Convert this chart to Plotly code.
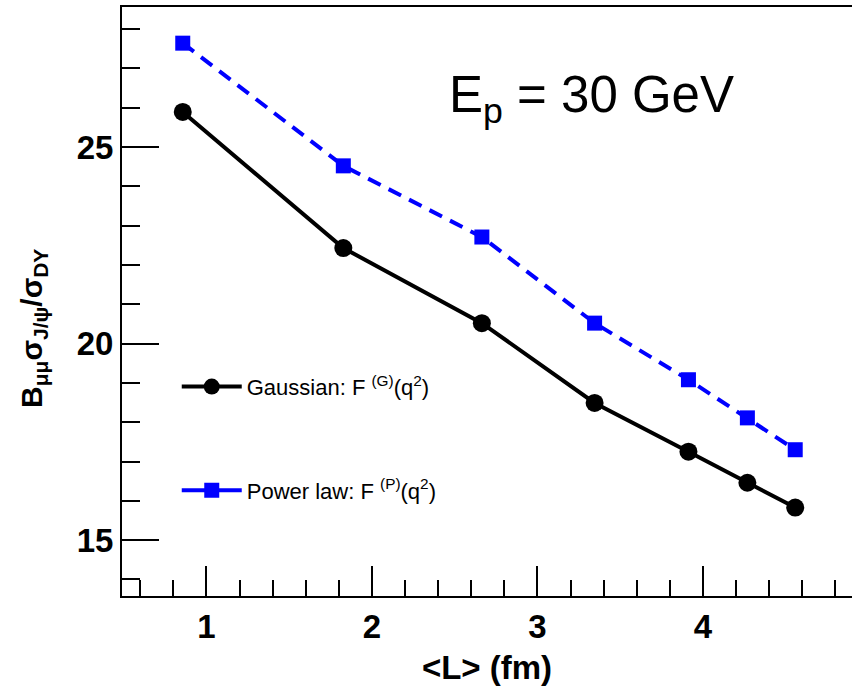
import plotly.graph_objects as go

L_fm = [0.857, 1.827, 2.664, 3.345, 3.912, 4.268, 4.557]
gauss = [25.89, 22.43, 20.52, 18.49, 17.25, 16.46, 15.83]
power = [27.64, 24.52, 22.71, 20.52, 19.08, 18.11, 17.30]

x_ticks = [1, 2, 3, 4]
y_ticks = [15, 20, 25]

FONT = "Liberation Sans, Arial, sans-serif"

fig = go.Figure()

fig.add_trace(go.Scatter(
    x=L_fm, y=gauss, mode="lines+markers", showlegend=False,
    line=dict(color="black", width=4),
    marker=dict(symbol="circle", size=18, color="black"),
))
fig.add_trace(go.Scatter(
    x=L_fm, y=power, mode="lines+markers", showlegend=False,
    line=dict(color="#0000ff", width=4, dash="14px,9px"),
    marker=dict(symbol="square", size=15, color="#0000ff"),
))
# legend entries (solid lines as in the reference legend)
fig.add_trace(go.Scatter(
    x=[None], y=[None], mode="lines+markers", legendgroup="g",
    name="Gaussian: F <sup>(G)</sup>(q<sup>2</sup>)",
    line=dict(color="black", width=4),
    marker=dict(symbol="circle", size=18, color="black"),
))
fig.add_trace(go.Scatter(
    x=[None], y=[None], mode="lines+markers", legendgroup="p",
    name="Power law: F <sup>(P)</sup>(q<sup>2</sup>)",
    line=dict(color="#0000ff", width=4),
    marker=dict(symbol="square", size=15, color="#0000ff"),
))

fig.add_annotation(
    x=0.643, y=0.845, xref="paper", yref="paper",
    text="E<sub>p</sub> = 30 GeV", showarrow=False,
    font=dict(family=FONT, size=51, color="black"),
    xanchor="center", yanchor="middle",
)

# y-axis title as a rotated annotation
fig.add_annotation(
    x=-0.122, y=0.455, xref="paper", yref="paper",
    text="<b>B<sub>μμ</sub>σ<sub>J/ψ</sub>/σ<sub>DY</sub></b>", showarrow=False,
    font=dict(family=FONT, size=30, color="black"),
    textangle=-90, xanchor="center", yanchor="middle",
)

fig.update_layout(
    width=852, height=686,
    margin=dict(l=122, r=0, t=7, b=90),
    paper_bgcolor="white", plot_bgcolor="white",
    font=dict(family=FONT, color="black"),
    legend=dict(
        x=0.075, y=0.267, xanchor="left", yanchor="middle",
        font=dict(family=FONT, size=22, color="black"),
        bgcolor="rgba(0,0,0,0)", tracegroupgap=72, itemwidth=60,
    ),
    xaxis=dict(
        range=[0.49, 4.9], showgrid=False, zeroline=False,
        showline=True, linecolor="black", linewidth=2, mirror=True,
        tickmode="array", tickvals=x_ticks, ticktext=[f"<b>{v}</b>" for v in x_ticks],
        ticks="inside", ticklen=30, tickwidth=2, tickcolor="black",
        tickfont=dict(family=FONT, size=33, color="black"),
        minor=dict(dtick=0.2, ticks="inside", ticklen=16, tickwidth=2, tickcolor="black"),
        title=dict(text="<b>&lt;L&gt; (fm)</b>", font=dict(family=FONT, size=33, color="black"), standoff=12),
    ),
    yaxis=dict(
        range=[13.58, 28.56], showgrid=False, zeroline=False,
        showline=True, linecolor="black", linewidth=2,
        tickmode="array", tickvals=y_ticks, ticktext=[f"<b>{v}</b>" for v in y_ticks],
        ticks="inside", ticklen=37, tickwidth=2, tickcolor="black",
        tickfont=dict(family=FONT, size=33, color="black"),
        minor=dict(dtick=1, ticks="inside", ticklen=18, tickwidth=2, tickcolor="black"),
    ),
)

fig.write_html("out.html")
